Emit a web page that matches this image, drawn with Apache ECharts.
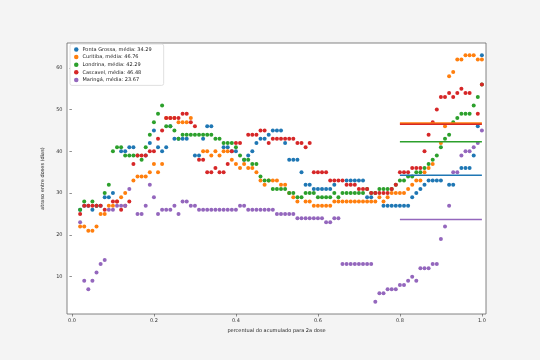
<!DOCTYPE html>
<html><head><meta charset="utf-8">
<script src="https://cdn.jsdelivr.net/npm/echarts@6/dist/echarts.min.js"></script>
<style>html,body{margin:0;padding:0;background:#f4f4f4}#c{width:540px;height:360px}</style>
</head><body><div id="c"></div>
<script>
// x: percentual do acumulado para 2a dose
const xs = [0.02,0.03,0.04,0.05,0.06,0.07,0.08,0.09,
 0.10,0.11,0.12,0.13,0.14,0.15,0.16,0.17,0.18,0.19,
 0.20,0.21,0.22,0.23,0.24,0.25,0.26,0.27,0.28,0.29,
 0.30,0.31,0.32,0.33,0.34,0.35,0.36,0.37,0.38,0.39,
 0.40,0.41,0.42,0.43,0.44,0.45,0.46,0.47,0.48,0.49,
 0.50,0.51,0.52,0.53,0.54,0.55,0.56,0.57,0.58,0.59,
 0.60,0.61,0.62,0.63,0.64,0.65,0.66,0.67,0.68,0.69,
 0.70,0.71,0.72,0.73,0.74,0.75,0.76,0.77,0.78,0.79,
 0.80,0.81,0.82,0.83,0.84,0.85,0.86,0.87,0.88,0.89,
 0.90,0.91,0.92,0.93,0.94,0.95,0.96,0.97,0.98,0.99,
 1.00];

const cities = ['Ponta Grossa','Curitiba','Londrina','Cascavel','Maringá'];
const means = [34.29, 46.76, 42.29, 46.48, 23.67];
const meanStart = 0.8, meanEnd = 1.0;
const colors = ['#1f77b4','#ff7f0e','#2ca02c','#d62728','#9467bd'];
const xTicks = [0, 0.2, 0.4, 0.6, 0.8, 1.0];
const yTicks = [10, 20, 30, 40, 50, 60];

const pontaGrossa = [26,27,27,26,27,27,29,29,
 30,null,40,40,41,41,null,null,39,42,
 45,41,40,41,46,43,43,43,43,null,
 39,39,43,46,46,null,null,41,41,40,
 40,null,38,39,40,42,43,43,44,45,
 45,45,42,38,38,38,35,32,32,31,
 31,31,31,31,32,null,null,33,33,33,
 33,33,29,29,null,null,27,27,27,27,
 27,27,27,29,30,31,32,33,33,33,
 33,null,32,32,null,36,36,36,39,46,
 63];

const curitiba = [22,22,21,21,22,25,25,27,
 27,28,29,30,null,33,34,34,34,35,
 37,35,37,48,48,48,47,47,47,48,
 null,null,40,40,39,40,39,40,40,38,
 37,36,37,36,36,35,33,32,33,33,
 33,32,32,30,29,28,null,28,28,27,
 27,27,27,27,28,28,28,28,28,28,
 28,28,28,28,28,29,28,29,30,30,
 30,30,31,32,33,33,35,36,37,null,
 42,46,58,59,62,62,63,63,63,62,
 62];

const londrina = [26,28,null,28,27,null,30,32,
 40,41,41,39,39,39,39,38,41,44,
 47,49,51,46,46,45,43,44,44,44,
 44,44,44,44,44,43,43,42,42,42,
 41,39,38,38,37,37,34,33,33,31,
 31,31,31,30,30,29,29,30,30,30,
 29,29,29,29,30,29,30,30,30,30,
 30,30,31,30,30,31,31,31,31,32,
 33,33,34,34,35,35,36,37,38,39,
 41,43,44,47,48,49,49,49,51,53,
 56];

const cascavel = [25,27,27,27,27,27,26,null,
 28,28,26,27,28,37,39,39,39,40,
 40,43,45,48,48,48,48,49,49,47,
 46,38,38,35,35,36,35,35,37,40,
 42,42,null,44,44,44,45,45,42,43,
 43,43,43,43,43,42,42,41,42,35,
 35,35,35,33,33,33,33,32,32,32,
 31,31,31,30,30,30,30,30,31,32,
 35,35,35,36,36,36,40,44,47,50,
 53,53,54,53,54,55,54,54,null,49,
 56];

const maringa = [23,9,7,9,11,13,14,26,
 26,27,27,27,31,null,25,25,27,32,
 29,25,26,26,26,27,25,28,28,27,
 27,26,26,26,26,26,26,26,26,26,
 26,27,27,26,26,26,26,26,26,26,
 25,25,25,25,25,24,24,24,24,24,
 24,24,23,23,24,24,13,13,13,13,
 13,13,13,13,4,6,6,7,7,7,
 8,8,9,10,9,12,12,12,13,13,
 19,22,27,35,35,39,40,40,41,42,
 45];

const allY = [pontaGrossa, curitiba, londrina, cascavel, maringa];
const FONT = 'DejaVu Sans';
const legendNames = cities.map((c, k) => c + ', média: ' + means[k].toFixed(2));

const series = [];
allY.forEach((ys, k) => {
  series.push({
    type: 'scatter', name: legendNames[k],
    data: xs.map((x, i) => ys[i] == null ? null : [x, ys[i]]).filter(d => d),
    symbolSize: 4, itemStyle: { color: colors[k], opacity: 1 },
    z: 2, silent: true
  });
});
allY.forEach((ys, k) => {
  series.push({
    type: 'line', name: 'mean' + k,
    data: [[meanStart, means[k]], [meanEnd, means[k]]],
    showSymbol: false, symbol: 'none',
    lineStyle: { color: colors[k], width: 1.6 }, z: 3, silent: true
  });
});

const chart = echarts.init(document.getElementById('c'), null, { renderer: 'canvas' });
chart.setOption({
  animation: false,
  backgroundColor: '#f4f4f4',
  grid: { left: 67, right: 54, top: 43, bottom: 46, show: true,
          backgroundColor: '#ffffff', borderColor: '#666', borderWidth: 0.8 },
  legend: {
    data: legendNames, orient: 'vertical', left: 70, top: 44,
    icon: 'circle', itemWidth: 4.5, itemHeight: 4.5, itemGap: 2.6,
    padding: [3, 12, 3, 4],
    backgroundColor: '#ffffff', borderColor: '#d8d8d8', borderWidth: 0.8, borderRadius: 2,
    textStyle: { fontFamily: FONT, fontSize: 5, color: '#222', padding: [0,0,0,-1] }
  },
  xAxis: {
    type: 'value', min: -0.012, max: 1.01,
    name: 'percentual do acumulado para 2a dose', nameLocation: 'middle', nameGap: 14,
    nameTextStyle: { fontFamily: FONT, fontSize: 5, color: '#222' },
    axisLine: { show: false },
    axisTick: { show: true, length: 2.5, lineStyle: { color: '#444', width: 0.6 },
                customValues: xTicks },
    axisLabel: { fontFamily: FONT, fontSize: 5, color: '#333', margin: 4.5,
                 customValues: xTicks, formatter: v => v.toFixed(1) },
    splitLine: { show: false }
  },
  yAxis: {
    type: 'value', min: 1.05, max: 65.95,
    name: 'atraso entre doses (dias)', nameLocation: 'middle', nameGap: 16,
    nameTextStyle: { fontFamily: FONT, fontSize: 5, color: '#222' },
    axisLine: { show: false },
    axisTick: { show: true, length: 2.5, lineStyle: { color: '#444', width: 0.6 },
                customValues: yTicks },
    axisLabel: { fontFamily: FONT, fontSize: 5, color: '#333', margin: 4.5,
                 customValues: yTicks, formatter: v => String(Math.round(v)) },
    splitLine: { show: false }
  },
  series: series
});
</script>
</body></html>
